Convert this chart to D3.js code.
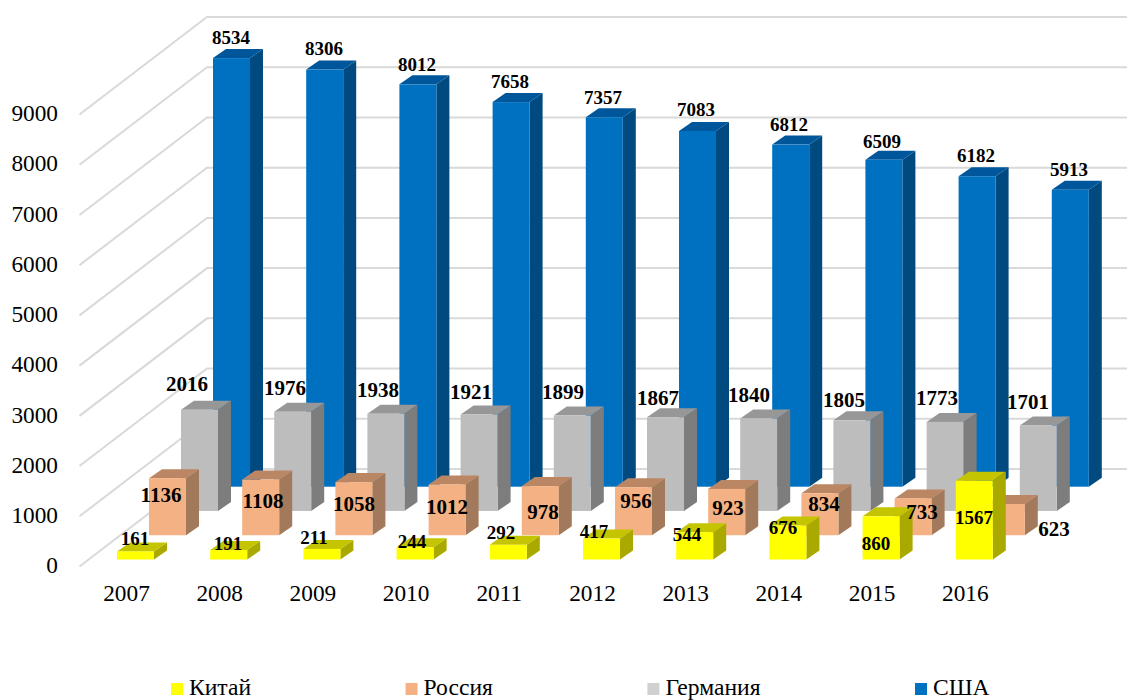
<!DOCTYPE html>
<html><head><meta charset="utf-8">
<style>html,body{margin:0;padding:0;background:#fff}svg{display:block}text{font-family:"Liberation Serif",serif;fill:#000}</style>
<script src="https://cdnjs.cloudflare.com/ajax/libs/d3/7.8.5/d3.min.js"></script>
</head><body><svg id="c" width="1127" height="700"></svg>
<script>
const years = [2007,2008,2009,2010,2011,2012,2013,2014,2015,2016];
const yTicks = [0,1000,2000,3000,4000,5000,6000,7000,8000,9000];
const seriesNames = ["Китай","Россия","Германия","США"];
const china = [161,191,211,244,292,417,544,676,860,1567];
const russia = [1136,1108,1058,1012,978,956,923,834,733,623];
const germany = [2016,1976,1938,1921,1899,1867,1840,1805,1773,1701];
const usa = [8534,8306,8012,7658,7357,7083,6812,6509,6182,5913];
const seriesValues = [china,russia,germany,usa];

// label nudges relative to the default spot above each bar's front-top centre
const chinaNudge = [[-.5,7],[-.7,12.6],[-7.9,7.6],[-3.1,13.3],[-7.3,6.7],[-7.5,12.9],[-7.7,22.3],[-4.9,21.9],[-5.1,46.2],[-.3,55.7]];
const russiaNudge = [[-6.5,36.4],[2.3,41.9],[.1,42.4],[-.1,42.1],[2.7,45.4],[2.5,33.3],[1.3,38.7],[4.1,30.2],[8.9,33.1],[47.7,44.6]];
const germanyNudge = [[-12.5,-5.3],[-7.7,-3.3],[-7.9,-3.2],[-8.1,-2],[-9.3,-3.1],[-7.5,.3],[-9.7,-3.1],[-7.9,.1],[-8.1,-3.5],[-10.3,-3.1]];
const usaNudge = [[-.5,-1.6],[-.7,-1.1],[-.9,-.8],[-1.1,-.6],[-1.3,-.7],[-1.5,-1.5],[-1.7,-.1],[-1.9,.7],[-1.1,-1.7],[-1.3,-1.2]];
const nudges = [chinaNudge,russiaNudge,germanyNudge,usaNudge];

const fills = ["#FFFF00","#F4B183","#BDBDBD","#0070C0"];
const sideFills = ["#A9A900","#A27A5B","#7D7D7D","#004A80"];
const topFills = ["#C4C400","#BB8663","#979797","#00569A"];
const legendFills = ["#FFFF00","#F4B183","#D0D0D0","#0070C0"];
const W=1127,H=700;
const svg=d3.select("#c");
const x=d3.scaleBand().domain(years).range([117,117+875.8]).paddingInner(0.603).paddingOuter(0).align(0);
const y=d3.scaleLinear().domain([0,9000]).range([0,452]);
const offX=d3.scalePoint().domain(seriesNames).range([0,96]);
const offY=d3.scalePoint().domain(seriesNames).range([0,72.8]);
const base=559.5, depthX=13, depthY=9;

// walls
const wallL=79.5, wallR=207, wallBase=469, axisBase=566.5;
const grid=svg.append("g").attr("fill","none").attr("stroke","#d9d9d9").attr("stroke-width",2);
grid.selectAll("path").data(yTicks).join("path")
 .attr("d",v=>d3.line()([[wallL,axisBase-y(v)],[wallR,wallBase-y(v)],[W,wallBase-y(v)]]));

// y axis
const yAxisScale=d3.scaleLinear().domain([0,9000]).range([565,113]);
const ax=svg.append("g").attr("transform","translate(58,0)")
 .call(d3.axisLeft(yAxisScale).tickValues(yTicks).tickSize(0).tickPadding(0).tickFormat(d3.format("d")));
ax.select(".domain").remove();
ax.selectAll("text").style("font-family",'"Liberation Serif",serif').style("font-size","23.3px").attr("dy","0.33em");

// x axis
svg.append("g").selectAll("text").data(years).join("text")
 .attr("x",d=>x(d)+9.5).attr("y",601).attr("text-anchor","middle").attr("font-size","23.3px").text(d=>d);

// bars, back to front
const order=[3,2,1,0];
order.forEach(si=>{
  const name=seriesNames[si], ox=offX(name), b=base-offY(name), bw=x.bandwidth();
  const g=svg.append("g");
  const d=seriesValues[si].map((v,i)=>({v,i,year:years[i]}));
  const bar=g.selectAll("g").data(d).join("g");
  bar.append("path").attr("fill",sideFills[si]).attr("d",e=>{
    const l=x(e.year)+ox+bw,t=b-y(e.v);
    return d3.line()([[l,t],[l+depthX,t-depthY],[l+depthX,b-depthY],[l,b]])+"Z";});
  bar.append("path").attr("fill",topFills[si]).attr("d",e=>{
    const l=x(e.year)+ox,t=b-y(e.v);
    return d3.line()([[l,t],[l+depthX,t-depthY],[l+bw+depthX,t-depthY],[l+bw,t]])+"Z";});
  bar.append("rect").attr("fill",fills[si]).attr("x",e=>x(e.year)+ox).attr("width",bw)
    .attr("y",e=>b-y(e.v)).attr("height",e=>y(e.v));
});
// labels on top of every bar
const labelSize=[19,21,21,19];
order.forEach(si=>{
  const name=seriesNames[si], ox=offX(name), b=base-offY(name), bw=x.bandwidth();
  svg.append("g").selectAll("text").data(seriesValues[si]).join("text")
   .attr("x",(v,i)=>x(years[i])+ox+bw/2+nudges[si][i][0])
   .attr("y",(v,i)=>b-y(v)-13+nudges[si][i][1])
   .attr("text-anchor","middle").attr("font-weight","bold").attr("font-size",labelSize[si]+"px").text(v=>v);
});
// legend: flowing entries with a constant gap
let cursor=171;
const legendFont=23.6, legendGap=154.5, legendBaseline=694.5;
seriesNames.forEach((name,i)=>{
  const g=svg.append("g");
  g.append("rect").attr("x",cursor).attr("y",683).attr("width",12).attr("height",12).attr("fill",legendFills[i]);
  const t=g.append("text").attr("x",cursor+18).attr("y",legendBaseline).attr("font-size",legendFont+"px").text(name);
  cursor+=18+t.node().getComputedTextLength()+legendGap;
});
</script></body></html>
